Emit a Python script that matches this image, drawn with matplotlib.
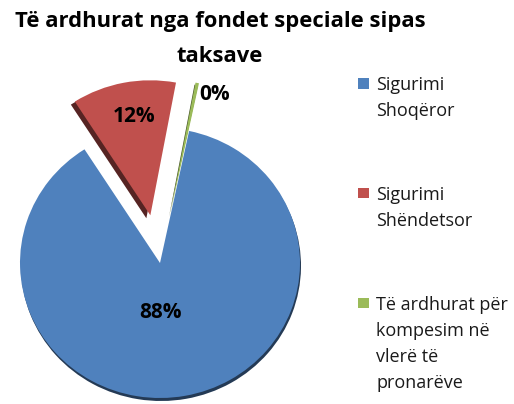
import matplotlib
matplotlib.use("Agg")
import matplotlib.pyplot as plt
from matplotlib.patches import Wedge, Rectangle
from matplotlib.colors import to_rgb

# ---- data ----
title = "Të ardhurat nga fondet speciale sipas\ntaksave"
categories = ["Sigurimi\nShoqëror", "Sigurimi\nShëndetsor",
              "Të ardhurat për\nkompesim në\nvlerë të\npronarëve"]
values = [87.6, 12.0, 0.4]
colors = ["#4F81BD", "#C0504D", "#9BBB59"]

# ---- layout ----
W, H = 514, 404
CX, CY = 160, 263          # pie centre in pixels
RX, RY = 140, 135          # pixels per data unit (slight tilt)

fig = plt.figure(figsize=(W / 100, H / 100), dpi=100)
ax = fig.add_axes([0, 0, 1, 1])

wedges, texts, autotexts = ax.pie(
    values, colors=colors, startangle=78, counterclock=False,
    explode=[0, 0.36, 0.36], autopct="%.0f%%", pctdistance=0.6,
    wedgeprops=dict(linewidth=0),
    textprops=dict(fontsize=15, fontweight="bold", family="Open Sans"))

# 3D-like darker sides
shadow_offsets = [(1 / RX, -3 / RY), (-4 / RX, -3 / RY), (-1 / RX, -2 / RY)]
for w, (dx, dy) in zip(wedges, shadow_offsets):
    c = to_rgb(w.get_facecolor())
    dark = tuple(v * 0.45 for v in c)
    cx, cy = w.center
    sh = Wedge((cx + dx, cy + dy), w.r, w.theta1, w.theta2,
               facecolor=dark, linewidth=0, zorder=w.get_zorder() - 0.5)
    ax.add_patch(sh)
    w.set_zorder(w.get_zorder() + 0.5)

ax.set_aspect("auto")
ax.set_xlim(-CX / RX, (W - CX) / RX)
ax.set_ylim((CY - H) / RY, CY / RY)
ax.axis("off")

# percentage label positions (pixels)
label_px = [(160, 313), (134, 117), (215, 95)]
for t, (px, py) in zip(autotexts, label_px):
    t.set_position(((px - CX) / RX, (CY - py) / RY))
    t.set_ha("center")
    t.set_va("center")
    t.set_zorder(10)

# title, line by line
for i, line in enumerate(title.split("\n")):
    fig.text(220 / W, 1 - (26.5 + 35.5 * i) / H, line, ha="center", va="baseline",
             fontsize=15.8, fontweight="bold", family="Open Sans")

# legend
entry_baselines = [90.5, 200, 310]
for w, lab, base in zip(wedges, categories, entry_baselines):
    sq_top = base - 12.5
    fig.patches.append(Rectangle((358 / W, 1 - (sq_top + 10.5) / H), 11 / W, 10.5 / H,
                                 transform=fig.transFigure,
                                 facecolor=w.get_facecolor(), linewidth=0))
    for j, line in enumerate(lab.split("\n")):
        fig.text(376 / W, 1 - (base + 26 * j) / H, line, ha="left", va="baseline",
                 fontsize=13, family="Open Sans", color="#1a1a1a")

fig.savefig("out.png", dpi=100)
